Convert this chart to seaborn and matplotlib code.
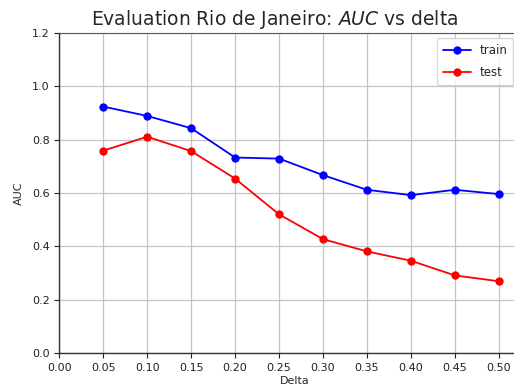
import matplotlib
matplotlib.use("Agg")
import matplotlib.pyplot as plt
import seaborn as sns
import pandas as pd

deltas = [0.05, 0.10, 0.15, 0.20, 0.25, 0.30, 0.35, 0.40, 0.45, 0.50]
train_auc = [0.924, 0.889, 0.843, 0.733, 0.729, 0.667, 0.612, 0.592, 0.612, 0.596]
test_auc = [0.759, 0.811, 0.757, 0.654, 0.520, 0.427, 0.381, 0.346, 0.291, 0.269]
x_ticks = [0.00, 0.05, 0.10, 0.15, 0.20, 0.25, 0.30, 0.35, 0.40, 0.45, 0.50]
y_ticks = [0.0, 0.2, 0.4, 0.6, 0.8, 1.0, 1.2]

df = pd.DataFrame({
    "Delta": deltas * 2,
    "AUC": train_auc + test_auc,
    "split": ["train"] * len(deltas) + ["test"] * len(deltas),
})

sns.set_style("ticks")
plt.rcParams["font.family"] = ["DejaVu Sans"]

W, H = 514, 389
fig = plt.figure(figsize=(W / 100, H / 100), dpi=100)
# axes run past the right border of the figure
ax = fig.add_axes([59.3 / W, 36 / H, 470 / W, 320 / H])

sns.lineplot(data=df, x="Delta", y="AUC", hue="split",
             palette={"train": "blue", "test": "red"},
             marker="o", markersize=6, markeredgewidth=0,
             linewidth=1.3, ax=ax)

ax.set_xlim(0, 470 / 879.0)
ax.set_ylim(0, 1.2)
ax.set_xticks(x_ticks)
ax.set_xticklabels([f"{t:.2f}" for t in x_ticks])
ax.set_yticks(y_ticks)
ax.set_yticklabels([f"{t:.1f}" for t in y_ticks])
ax.tick_params(labelsize=8, length=3.5, width=0.8, colors="#222222")
ax.grid(True, color="#c4c4c4", linewidth=0.9)

for side in ["left", "bottom"]:
    ax.spines[side].set_color("#333333")
    ax.spines[side].set_linewidth(1.0)
ax.spines["top"].set_visible(True)
ax.spines["top"].set_color("#555555")
ax.spines["top"].set_linewidth(0.8)
ax.spines["right"].set_visible(False)

ax.set_xlabel("Delta", fontsize=8, labelpad=2)
ax.set_ylabel("AUC", fontsize=8, labelpad=6)
ax.set_title("Evaluation Rio de Janeiro: $\\it{AUC}$ vs delta",
             fontsize=13.5, pad=6, x=(275 - 59.3) / 470)

leg = ax.legend(loc="upper right", fontsize=8.5, frameon=True,
                bbox_to_anchor=(513 / W, 1 - 38 / H),
                bbox_transform=fig.transFigure, borderaxespad=0,
                handlelength=2.4, handletextpad=0.7, labelspacing=0.75,
                borderpad=0.5)
leg.set_title(None)
leg.get_frame().set_edgecolor("#cccccc")

fig.savefig("out.png", dpi=100)
